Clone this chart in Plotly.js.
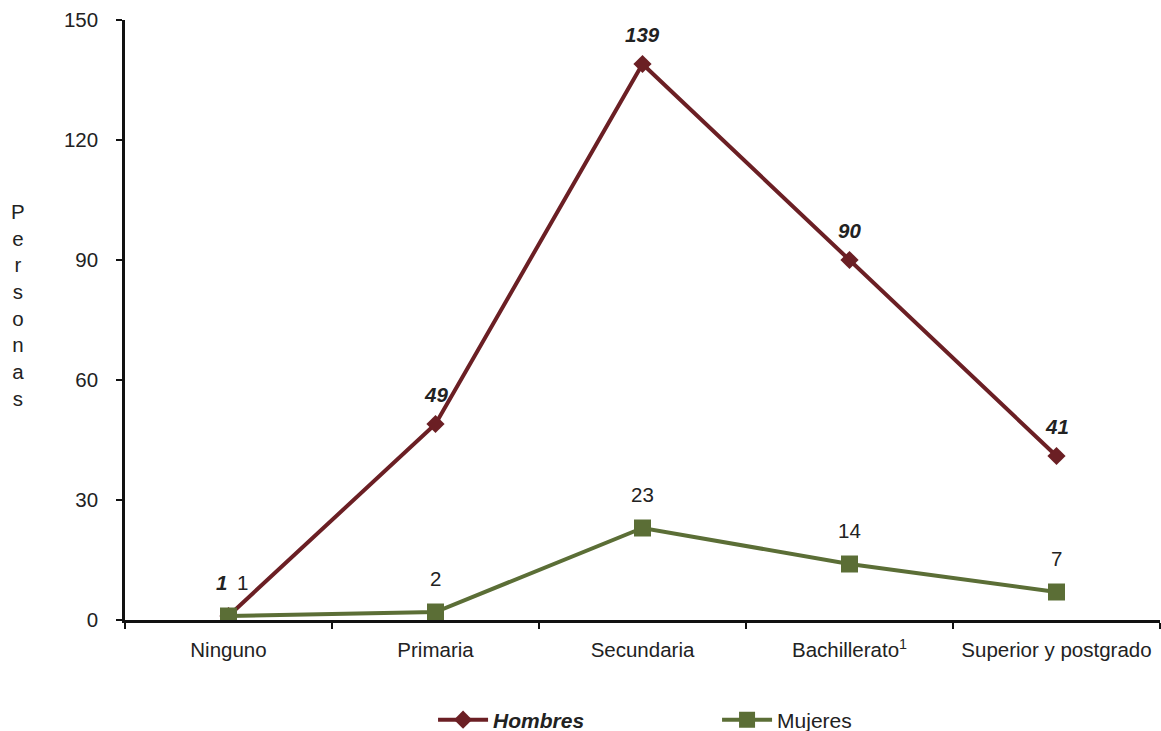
<!DOCTYPE html>
<html><head><meta charset="utf-8">
<script src="https://cdn.plot.ly/plotly-3.0.1.min.js"></script>
<style>html,body{margin:0;padding:0;background:#fff;}</style>
</head><body>
<div id="chart" style="width:1161px;height:731px;"></div>
<script>
var categories = ["Ninguno", "Primaria", "Secundaria", "Bachillerato", "Superior y postgrado"];
var tickLabels = ["Ninguno", "Primaria", "Secundaria", "Bachillerato<sup>1</sup>", "Superior y postgrado"];
var hombres = [1, 49, 139, 90, 41];
var mujeres = [1, 2, 23, 14, 7];

var maroon = "#6b1f24";
var olive = "#5b6e36";
var font = "Liberation Sans, Arial, sans-serif";
var fs = 20.5;

var traces = [
  {x: categories, y: hombres, name: "<b><i>Hombres</i></b>", mode: "lines+markers",
   line: {color: maroon, width: 4}, marker: {symbol: "diamond", size: 14, color: maroon}},
  {x: categories, y: mujeres, name: "Mujeres", mode: "lines+markers",
   line: {color: olive, width: 4}, marker: {symbol: "square", size: 17, color: olive}}
];

var annotations = [];
hombres.forEach(function(v, i){
  annotations.push({x: categories[i], y: v, xref: "x", yref: "y", text: "<b><i>" + v + "</i></b>",
    showarrow: false, yanchor: "middle", yshift: i === 0 ? 34 : 30, xshift: i === 0 ? -7 : 0,
    font: {family: font, size: fs, color: "#222"}});
});
mujeres.forEach(function(v, i){
  annotations.push({x: categories[i], y: v, xref: "x", yref: "y", text: String(v),
    showarrow: false, yanchor: "middle", yshift: 34, xshift: i === 0 ? 14 : 0,
    font: {family: font, size: fs, color: "#222"}});
});
annotations.push({xref: "paper", yref: "paper", x: -0.1034, y: 0.525, xanchor: "center", yanchor: "middle",
  text: "P<br>e<br>r<br>s<br>o<br>n<br>a<br>s", showarrow: false,
  font: {family: font, size: fs, color: "#222"}});

var layout = {
  width: 1161, height: 731,
  margin: {l: 125, r: 1, t: 20, b: 111},
  paper_bgcolor: "#fff", plot_bgcolor: "#fff",
  font: {family: font, size: fs, color: "#222"},
  showlegend: true,
  legend: {orientation: "h", xref: "container", yref: "container", x: 0.373, xanchor: "left",
    y: 0.015, yanchor: "middle",
    font: {family: font, size: 21, color: "#222"}, entrywidth: 219, itemwidth: 50},
  xaxis: {type: "category", tickvals: categories, ticktext: tickLabels, range: [-0.5, 4.5],
    showline: true, linecolor: "#111", linewidth: 2.5, ticks: "outside", tickson: "boundaries",
    ticklen: 6, tickwidth: 2, tickcolor: "#111", showgrid: false, zeroline: false,
    ticklabelstandoff: 10, automargin: false},
  yaxis: {range: [0, 150], tickvals: [0, 30, 60, 90, 120, 150], showline: true, linecolor: "#111",
    linewidth: 2.5, ticks: "outside", ticklen: 6, tickwidth: 2, tickcolor: "#111",
    showgrid: false, zeroline: false, ticklabelstandoff: 14, automargin: false},
  annotations: annotations
};

Plotly.newPlot("chart", traces, layout, {displayModeBar: false});
</script>
</body></html>
